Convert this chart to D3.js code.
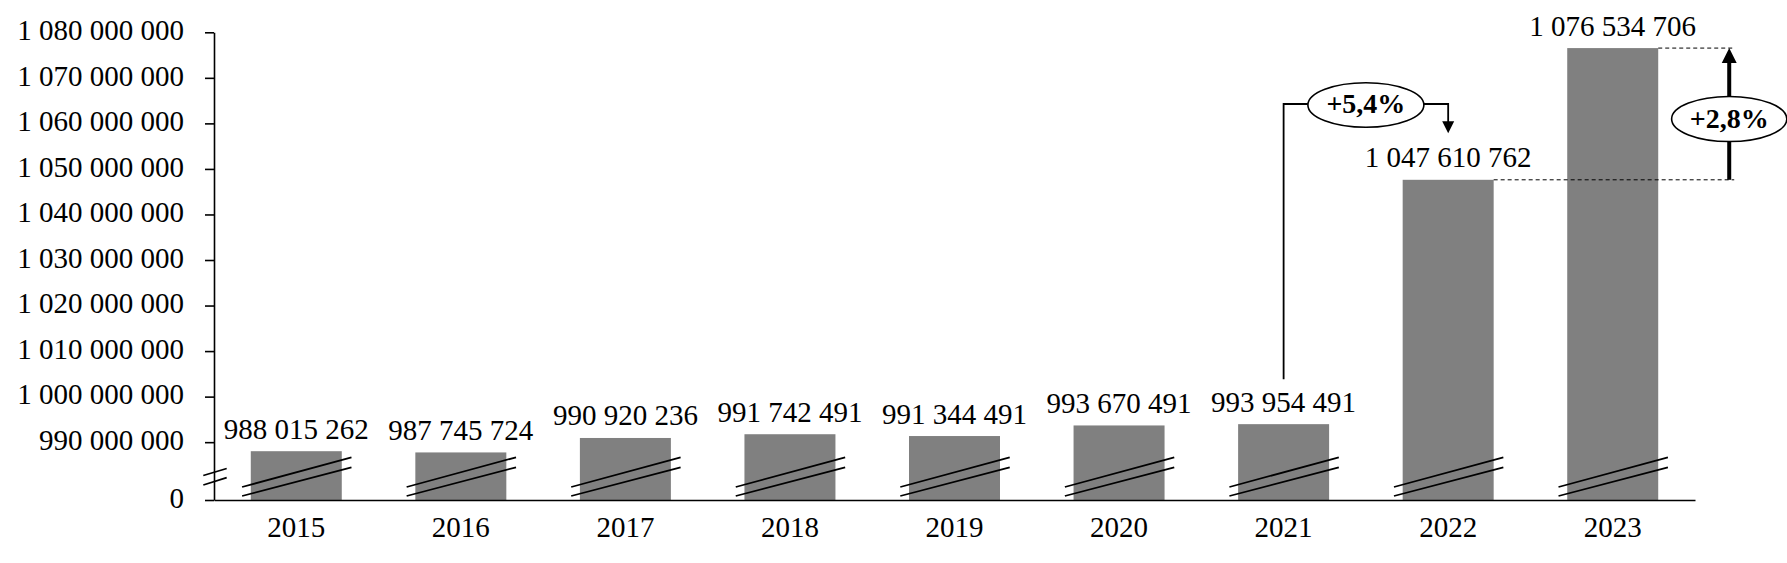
<!DOCTYPE html>
<html>
<head>
<meta charset="utf-8">
<script src="https://cdn.jsdelivr.net/npm/d3@7"></script>
<style>
  html, body { margin: 0; padding: 0; background: #fff; }
  svg { display: block; }
  text { font-family: "Liberation Serif", "Times New Roman", serif; fill: #000; }
</style>
</head>
<body>
<svg id="chart" width="1787" height="563"></svg>
<script>
// ---- data ----
const categories = ["2015", "2016", "2017", "2018", "2019", "2020", "2021", "2022", "2023"];
const values = [988015262, 987745724, 990920236, 991742491, 991344491, 993670491, 993954491, 1047610762, 1076534706];
const yTickValues = [990000000, 1000000000, 1010000000, 1020000000, 1030000000, 1040000000, 1050000000, 1060000000, 1070000000, 1080000000];
const axisFloor = 977300000;   // value at the broken bottom of the axis, labelled "0"
const growthLabels = ["+5,4%", "+2,8%"];

// ---- setup ----
const svg = d3.select("#chart");
const locale = d3.formatLocale({ decimal: ",", thousands: " ", grouping: [3], currency: ["", ""] });
const fmt = locale.format(",d");

const x = d3.scaleBand().domain(categories).range([214, 1695]).paddingInner(0.447).paddingOuter(0.2235);
const y = d3.scaleLinear().domain([axisFloor, 1080000000]).range([500, 32.3]);
const bw = x.bandwidth();
const baseY = y(axisFloor);

const FONT = 29;

// ---- bars ----
svg.append("g").selectAll("rect")
  .data(values)
  .join("rect")
  .attr("x", (d, i) => x(categories[i]))
  .attr("y", d => y(d))
  .attr("width", bw)
  .attr("height", d => baseY - y(d))
  .attr("fill", "#808080");

// ---- break marks on bars ----
const breaks = svg.append("g").attr("stroke", "#000").attr("stroke-width", 1.8);
categories.forEach(c => {
  const x0 = x(c) - 8.7, x1 = x(c) + bw + 9.7;
  [[-13, -42.7], [-4, -32.7]].forEach(([a, b]) => {
    breaks.append("line").attr("x1", x0).attr("y1", baseY + a).attr("x2", x1).attr("y2", baseY + b);
  });
});

// ---- y axis ----
const yAxis = d3.axisLeft(y)
  .tickValues([axisFloor].concat(yTickValues))
  .tickSize(9).tickSizeOuter(0).tickPadding(21)
  .tickFormat(v => v === axisFloor ? "0" : fmt(v));
const gy = svg.append("g").attr("transform", "translate(214,0)").call(yAxis);
gy.selectAll("path, line").attr("stroke", "#000").attr("stroke-width", 1.6);
gy.selectAll("text")
  .attr("font-family", "Liberation Serif")
  .attr("font-size", FONT)
  .attr("dy", "0.25em")
  .attr("fill", "#000");
gy.attr("font-family", null).attr("font-size", null);

// axis break mark
const ab = svg.append("g").attr("stroke", "#000").attr("stroke-width", 1.8);
ab.append("line").attr("x1", 203.3).attr("y1", baseY - 24.5).attr("x2", 226.7).attr("y2", baseY - 31.5);
ab.append("line").attr("x1", 203.3).attr("y1", baseY - 15).attr("x2", 226.7).attr("y2", baseY - 22.3);

// ---- x axis ----
const xAxis = d3.axisBottom(x).tickSize(0).tickSizeOuter(0).tickPadding(16.5);
const gx = svg.append("g").attr("transform", `translate(0,${baseY})`).call(xAxis);
gx.selectAll("path").attr("stroke", "#000").attr("stroke-width", 1.6);
gx.selectAll("text")
  .attr("font-family", "Liberation Serif")
  .attr("font-size", FONT)
  .attr("fill", "#000");
gx.attr("font-family", null).attr("font-size", null);

// ---- value labels ----
svg.append("g").selectAll("text")
  .data(values)
  .join("text")
  .attr("x", (d, i) => x(categories[i]) + bw / 2)
  .attr("y", d => y(d) - 12.5)
  .attr("text-anchor", "middle")
  .attr("font-size", FONT)
  .text(d => fmt(d));

// ---- annotation 1: 2021 -> 2022 ----
const v21 = values[6], v22 = values[7], v23 = values[8];
const cx21 = x("2021") + bw / 2;
const cx22 = x("2022") + bw / 2;
const e1 = { cx: (cx21 + cx22) / 2, cy: 105, rx: 58, ry: 22.3 };
const lineY1 = 104;
const ann = svg.append("g");
ann.append("path")
  .attr("d", `M${cx21},${y(v21) - 45} V${lineY1} H${e1.cx - e1.rx}`)
  .attr("fill", "none").attr("stroke", "#000").attr("stroke-width", 1.8);
const tip1 = y(v22) - 46.5;
ann.append("path")
  .attr("d", `M${e1.cx + e1.rx},${lineY1} H${cx22} V${tip1 - 11}`)
  .attr("fill", "none").attr("stroke", "#000").attr("stroke-width", 1.8);
ann.append("path")
  .attr("d", `M${cx22 - 6},${tip1 - 12} L${cx22 + 6},${tip1 - 12} L${cx22},${tip1} Z`)
  .attr("fill", "#000");
ann.append("ellipse")
  .attr("cx", e1.cx).attr("cy", e1.cy).attr("rx", e1.rx).attr("ry", e1.ry)
  .attr("fill", "#fff").attr("stroke", "#000").attr("stroke-width", 1.6);
ann.append("text")
  .attr("x", e1.cx).attr("y", e1.cy + 7.5)
  .attr("text-anchor", "middle").attr("font-size", 28).attr("font-weight", "bold")
  .text(growthLabels[0]);

// ---- annotation 2: 2022 -> 2023 ----
const right22 = x("2022") + bw;
const right23 = x("2023") + bw;
const ax2 = right23 + 71;
const dashEnd = ax2 + 5;
ann.append("line")
  .attr("x1", right23).attr("y1", y(v23)).attr("x2", dashEnd).attr("y2", y(v23))
  .attr("stroke", "#000").attr("stroke-width", 1).attr("stroke-dasharray", "4,3");
ann.append("line")
  .attr("x1", right22).attr("y1", y(v22)).attr("x2", dashEnd).attr("y2", y(v22))
  .attr("stroke", "#000").attr("stroke-width", 1).attr("stroke-dasharray", "4,3");
ann.append("line")
  .attr("x1", ax2).attr("y1", y(v22)).attr("x2", ax2).attr("y2", y(v23) + 14)
  .attr("stroke", "#000").attr("stroke-width", 4);
ann.append("path")
  .attr("d", `M${ax2 - 7.5},${y(v23) + 15} L${ax2 + 7.5},${y(v23) + 15} L${ax2},${y(v23)} Z`)
  .attr("fill", "#000");
const e2 = { cx: ax2, cy: 119, rx: 57.6, ry: 22.5 };
ann.append("ellipse")
  .attr("cx", e2.cx).attr("cy", e2.cy).attr("rx", e2.rx).attr("ry", e2.ry)
  .attr("fill", "#fff").attr("stroke", "#000").attr("stroke-width", 1.6);
ann.append("text")
  .attr("x", e2.cx).attr("y", e2.cy + 8.5)
  .attr("text-anchor", "middle").attr("font-size", 28).attr("font-weight", "bold")
  .text(growthLabels[1]);
</script>
</body>
</html>
